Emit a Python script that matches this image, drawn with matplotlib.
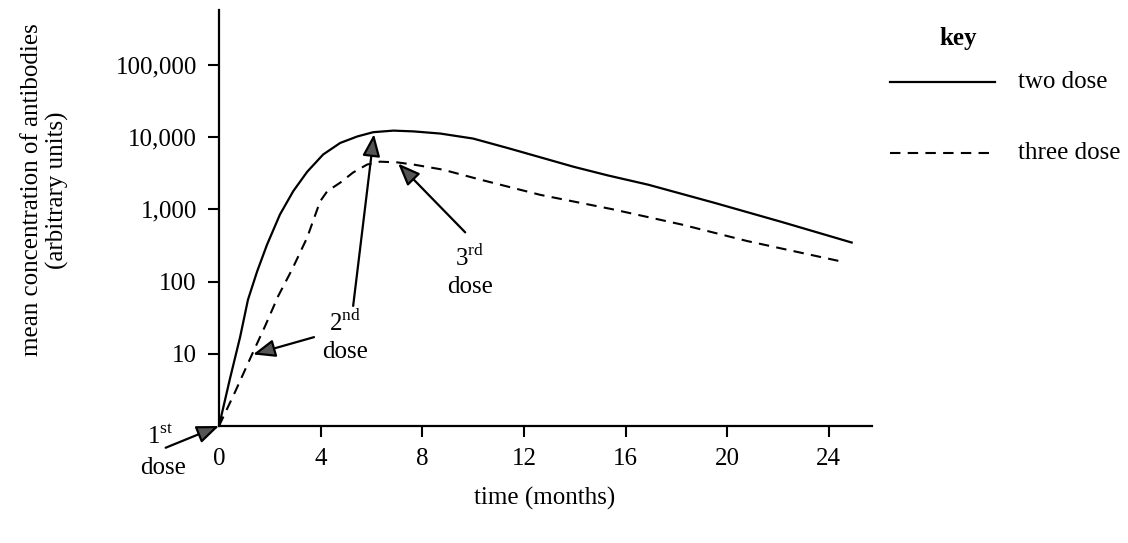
import matplotlib
matplotlib.use("Agg")
import matplotlib.pyplot as plt
from matplotlib.lines import Line2D

plt.rcParams['font.family'] = ['Liberation Serif', 'DejaVu Serif']
plt.rcParams['mathtext.fontset'] = 'custom'
plt.rcParams['mathtext.rm'] = 'Liberation Serif'
plt.rcParams['font.size'] = 18

# data (months, antibody units)
two_months = [0, 0.43, 0.83, 1.14, 1.50, 1.89, 2.40, 2.92, 3.47, 4.10, 4.77,
              5.44, 6.07, 6.86, 7.65, 8.71, 10.0, 11.35, 12.65, 13.95, 15.3,
              16.9, 19.5, 22.1, 24.9]
two_conc = [1, 4.5, 17, 56, 138, 324, 850, 1780, 3310, 5750, 8300,
            10200, 11700, 12300, 12000, 11200, 9550, 7080, 5250, 3890, 2950,
            2190, 1230, 676, 347]

three_months = [0, 0.63, 1.30, 1.81, 2.33, 2.88, 3.47, 3.98, 4.26, 4.77, 5.28,
                5.83, 6.34, 7.01, 7.65, 8.8, 10.3, 12.65, 15.5, 18.2, 20.8, 24.6]
three_conc = [1, 2.95, 9.8, 24, 63, 148, 407, 1290, 1780, 2340, 3240,
              4170, 4570, 4470, 4170, 3550, 2570, 1585, 1000, 617, 363, 186]

x_ticks = [0, 4, 8, 12, 16, 20, 24]
y_ticks = [10, 100, 1000, 10000, 100000]
y_tick_labels = ['10', '100', '1,000', '10,000', '100,000']

W, H = 1128, 543
fig = plt.figure(figsize=(W / 100, H / 100), dpi=100)
ax = fig.add_axes([219 / W, 1 - 426 / H, 653 / W, 416 / H])

ax.plot(two_months, two_conc, color='black', lw=1.6)
ax.plot(three_months, three_conc, color='black', lw=1.5, linestyle=(0, (5, 3.5)))

ax.set_yscale('log')
ax.set_xlim(0, 25.7)
ax.set_ylim(1, 10 ** 5.76)
ax.set_yticks(y_ticks)
ax.set_yticklabels(y_tick_labels)
ax.minorticks_off()
ax.set_xticks(x_ticks)
ax.set_xticklabels([str(t) for t in x_ticks])
ax.xaxis.get_major_ticks()[0].tick1line.set_visible(False)
ax.tick_params(direction='out', length=8, width=1.5, pad=8)

for s in ['top', 'right']:
    ax.spines[s].set_visible(False)
for s in ['left', 'bottom']:
    ax.spines[s].set_linewidth(1.6)

# arrows pointing at the doses
arrow = dict(arrowstyle='-|>,head_length=0.75,head_width=0.3', fc='#555555',
             ec='black', lw=1.6, shrinkA=0, shrinkB=0)
ax.annotate('', xy=(0, 1), xytext=(-2.1, 0.5), arrowprops=arrow,
            annotation_clip=False)
ax.annotate('', xy=(1.34, 9.8), xytext=(3.74, 17), arrowprops=arrow)
ax.annotate('', xy=(6.1, 11000), xytext=(5.28, 46), arrowprops=arrow)
ax.annotate('', xy=(7.05, 4300), xytext=(9.69, 480), arrowprops=arrow)

# dose labels
fig.text(160 / W, 1 - 437 / H, r'1$^{\mathrm{st}}$', ha='center', va='center')
fig.text(163 / W, 1 - 468 / H, 'dose', ha='center', va='center')
fig.text(345 / W, 1 - 323 / H, r'2$^{\mathrm{nd}}$', ha='center', va='center')
fig.text(345 / W, 1 - 352 / H, 'dose', ha='center', va='center')
fig.text(470 / W, 1 - 258 / H, r'3$^{\mathrm{rd}}$', ha='center', va='center')
fig.text(470 / W, 1 - 287 / H, 'dose', ha='center', va='center')

# axis titles
fig.text(45 / W, 1 - 190 / H, 'mean concentration of antibodies\n(arbitrary units)',
         rotation=90, ha='center', va='center', linespacing=1.15)
fig.text(545 / W, 1 - 498 / H, 'time (months)', ha='center', va='center')

# key
fig.text(958 / W, 1 - 38 / H, 'key', ha='center', va='center', weight='bold')
fig.add_artist(Line2D([890 / W, 995 / W], [1 - 82 / H, 1 - 82 / H],
                      color='black', lw=1.6))
fig.text(1018 / W, 1 - 82 / H, 'two dose', ha='left', va='center')
fig.add_artist(Line2D([890 / W, 995 / W], [1 - 153 / H, 1 - 153 / H],
                      color='black', lw=1.5, linestyle=(0, (5, 3.5))))
fig.text(1018 / W, 1 - 153 / H, 'three dose', ha='left', va='center')

fig.savefig('out.png', dpi=100)
